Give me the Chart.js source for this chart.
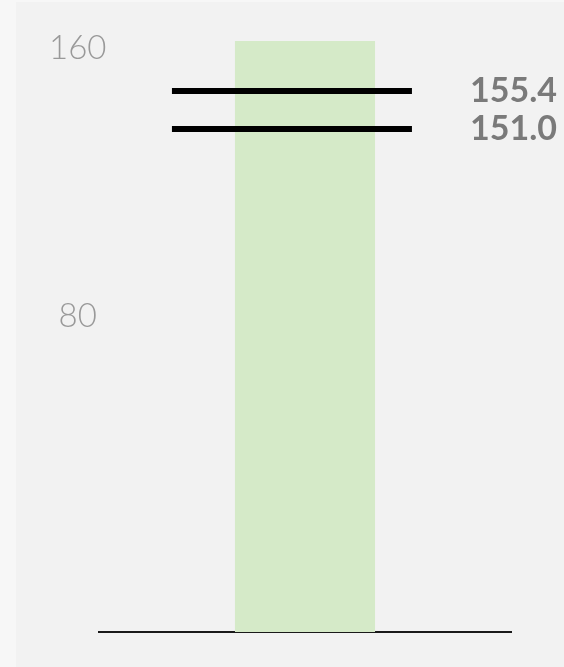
<!DOCTYPE html>
<html><head><meta charset="utf-8">
<script src="https://cdn.jsdelivr.net/npm/chart.js@4"></script>
<style>
html,body{margin:0;padding:0;background:#f7f7f7;width:564px;height:667px;overflow:hidden}
#panel{position:absolute;left:16px;top:2px;right:0;bottom:0;background:#f2f2f2}
#wrap{position:absolute;left:0;top:0;width:564px;height:667px}
</style></head><body>
<div id="panel"></div>
<div id="wrap"><canvas id="c"></canvas></div>
<script>
const categories = ['Range'];
const barValues = [160];
const markerValues = [155.4, 151.0];
const axisTickValues = [160, 80];

new Chart(document.getElementById('c'), {
  type: 'bar',
  data: {
    labels: categories,
    datasets: [
      {
        type: 'bar',
        data: barValues,
        xAxisID: 'x', yAxisID: 'yBar',
        backgroundColor: '#d5eac8',
        barPercentage: 0.34,
        categoryPercentage: 1,
        grouped: false,
        order: 1
      },
      {
        type: 'line',
        data: markerValues.map(v => ({x: 0, y: v})),
        xAxisID: 'xLine', yAxisID: 'yLine',
        showLine: false,
        pointStyle: 'line',
        pointRadius: 120,
        pointBorderWidth: 6,
        pointBorderColor: '#000',
        pointBackgroundColor: '#000',
        order: 0
      }
    ]
  },
  options: {
    responsive: true,
    maintainAspectRatio: false,
    animation: false,
    events: [],
    layout: {autoPadding: false, padding: {left: 0, right: 0, top: 41, bottom: 35}},
    plugins: {legend: {display: false}, tooltip: {enabled: false}},
    scales: {
      x: {
        type: 'category',
        grid: {display: false, drawTicks: false},
        ticks: {display: false},
        border: {display: true, color: '#1a1a1a', width: 2},
        afterFit: s => { s.height = 0; s.paddingLeft = 0; s.paddingRight = 0; }
      },
      xLine: {
        type: 'linear', display: false, min: -0.9208, max: 1.0792
      },
      yTicks: {
        type: 'linear', position: 'left',
        min: -14.18, max: 162.24,
        grid: {display: false, drawTicks: false},
        border: {display: false},
        afterBuildTicks: s => { s.ticks = axisTickValues.map(v => ({value: v})); },
        ticks: {
          font: {family: 'Lato', size: 33, weight: 300},
          color: '#999999',
          mirror: true,
          padding: -50,
          crossAlign: 'center',
          autoSkip: false
        },
        afterFit: s => { s.width = 99; s.paddingTop = 0; s.paddingBottom = 0; }
      },
      yBar: {type: 'linear', display: false, min: 0, max: 160},
      yLine: {
        type: 'linear', position: 'right',
        min: 92.76, max: 161.19,
        grid: {display: false, drawTicks: false},
        border: {display: false},
        afterBuildTicks: s => { s.ticks = markerValues.map(v => ({value: v})); },
        ticks: {
          callback: v => Number(v).toFixed(1),
          font: {family: 'Lato', size: 34, weight: 'bold'},
          color: '#7a7a7a',
          mirror: true,
          crossAlign: 'near',
          padding: 46,
          autoSkip: false
        },
        afterFit: s => { s.width = 53; s.paddingTop = 0; s.paddingBottom = 0; }
      }
    }
  }
});
</script>
</body></html>
